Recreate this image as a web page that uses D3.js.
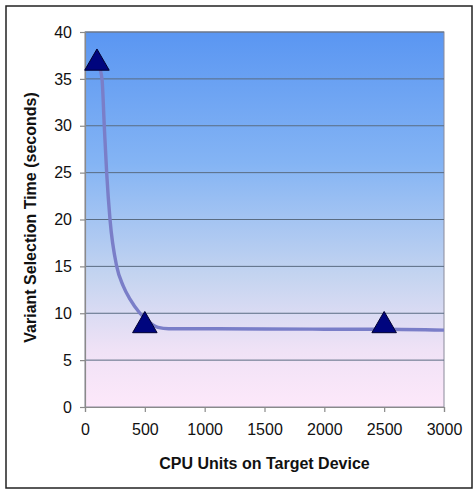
<!DOCTYPE html>
<html><head><meta charset="utf-8">
<script src="https://cdn.jsdelivr.net/npm/d3@7"></script>
<style>body{margin:0;background:#fff}svg{display:block}</style>
</head><body><svg id="c" width="474" height="491"></svg>
<script>
const markerX = [100, 500, 2500];
const markerY = [37, 9, 9];
const curveX = [112, 142, 161, 181, 209, 265, 320, 376, 459, 543, 610, 700, 1000, 2000, 2500, 3000];
const curveY = [36.5, 35, 30, 25, 20, 15, 12.9, 11.5, 10, 9, 8.5, 8.35, 8.35, 8.3, 8.3, 8.2];
const xTicks = [0, 500, 1000, 1500, 2000, 2500, 3000];
const yTicks = [0, 5, 10, 15, 20, 25, 30, 35, 40];
const xTitle = "CPU Units on Target Device";
const yTitle = "Variant Selection Time (seconds)";

const svg = d3.select("#c");
const L = 85, R = 444, T = 32, B = 407;
const x = d3.scaleLinear().domain([0, 3000]).range([L, R]);
const y = d3.scaleLinear().domain([0, 40]).range([B, T]);

svg.append("rect").attr("x", 6).attr("y", 6).attr("width", 466).attr("height", 482)
  .attr("fill", "#fff").attr("stroke", "#222").attr("stroke-width", 1.5);

const defs = svg.append("defs");
const g = defs.append("linearGradient").attr("id", "bg").attr("x1", 0).attr("y1", 0).attr("x2", 0).attr("y2", 1);
g.append("stop").attr("offset", "0%").attr("stop-color", "#5a96f2");
g.append("stop").attr("offset", "35%").attr("stop-color", "#84b4f4");
g.append("stop").attr("offset", "65%").attr("stop-color", "#c4d4f0");
g.append("stop").attr("offset", "85%").attr("stop-color", "#f0e2f6");
g.append("stop").attr("offset", "100%").attr("stop-color", "#fde8fa");

svg.append("rect").attr("x", L).attr("y", T).attr("width", R - L).attr("height", B - T)
  .attr("fill", "url(#bg)").attr("stroke", "#8a8a9a").attr("stroke-width", 1);

// gridlines
svg.append("g").selectAll("line").data(yTicks.filter(d => d > 0)).join("line")
  .attr("x1", L).attr("x2", R).attr("y1", d => y(d)).attr("y2", d => y(d))
  .attr("stroke", "#5a6c82").attr("stroke-width", 1);

// axes
const fmt = d3.format("d");
const xa = svg.append("g").attr("transform", `translate(0,${B})`)
  .call(d3.axisBottom(x).tickValues(xTicks).tickFormat(fmt).tickSize(5).tickPadding(12));
const ya = svg.append("g").attr("transform", `translate(${L},0)`)
  .call(d3.axisLeft(y).tickValues(yTicks).tickFormat(fmt).tickSize(5).tickPadding(8));
[xa, ya].forEach(a => {
  a.select(".domain").attr("stroke", "#8a8a8a").attr("stroke-width", 1.2);
  a.selectAll(".tick line").attr("stroke", "#8a8a8a").attr("stroke-width", 1.2);
  a.selectAll("text").attr("font-family", "Liberation Sans, Arial, sans-serif")
    .attr("font-size", 16).attr("fill", "#111");
});

// curve
const line = d3.line().x((d, i) => x(curveX[i])).y((d, i) => y(curveY[i])).curve(d3.curveMonotoneX);
svg.append("path").attr("d", line(curveX)).attr("fill", "none")
  .attr("stroke", "#7a7ec8").attr("stroke-width", 3.4).attr("stroke-linejoin", "round");

// markers
const tri = d3.symbol().type(d3.symbolTriangle).size(260);
svg.append("g").selectAll("path").data(markerX).join("path")
  .attr("d", tri)
  .attr("transform", (d, i) => `translate(${x(d)},${y(markerY[i]) + 3})`)
  .attr("fill", "#00057e").attr("stroke", "#000030").attr("stroke-width", 1);

// titles
svg.append("text").attr("x", (L + R) / 2).attr("y", 469).attr("text-anchor", "middle")
  .attr("font-family", "Liberation Sans, Arial, sans-serif").attr("font-size", 16)
  .attr("font-weight", "bold").attr("fill", "#111").text(xTitle);
svg.append("text").attr("transform", `translate(36,${(T + B) / 2 - 2}) rotate(-90)`)
  .attr("text-anchor", "middle")
  .attr("font-family", "Liberation Sans, Arial, sans-serif").attr("font-size", 16)
  .attr("font-weight", "bold").attr("fill", "#111").text(yTitle);
</script></body></html>
